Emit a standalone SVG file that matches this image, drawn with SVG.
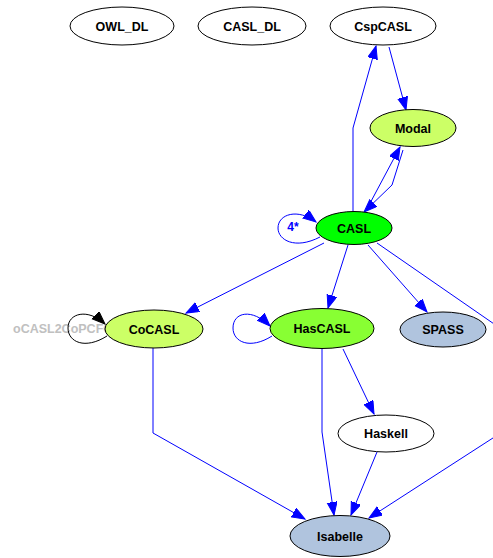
<svg xmlns="http://www.w3.org/2000/svg" width="493" height="558" viewBox="0 0 493 558">
<style>
.n{stroke:#000;stroke-width:1}
.t{font-family:"Liberation Sans",Arial,sans-serif;font-weight:bold;font-size:12.5px;text-anchor:middle;fill:#000}
.e{fill:none;stroke:#0000ff;stroke-width:1}
.k{fill:none;stroke:#000;stroke-width:1}
</style>
<defs>
<marker id="ab" markerUnits="userSpaceOnUse" markerWidth="15" markerHeight="12" refX="13" refY="5" orient="auto"><path d="M0,0 L13,5 L0,10 z" fill="#0000ff" stroke="#0000ff"/></marker>
<marker id="ak" markerUnits="userSpaceOnUse" markerWidth="15" markerHeight="12" refX="13" refY="5" orient="auto"><path d="M0,0 L13,5 L0,10 z" fill="#000" stroke="#000"/></marker>
</defs>
<rect width="493" height="558" fill="#fff"/>
<text x="13" y="333" style="font-family:'Liberation Sans',Arial,sans-serif;font-weight:bold;font-size:12.5px;fill:#c0c0c0">oCASL2CoPCFOL</text>
<g id="edges">
<path class="e" d="M353,211 L353,128 L376,46" marker-end="url(#ab)"/>
<path class="e" d="M389,47 L406,110" marker-end="url(#ab)"/>
<path class="e" d="M368,207 L400,147" marker-end="url(#ab)"/>
<path class="e" d="M403,150 L392,185 L364,212" marker-end="url(#ab)"/>
<path class="e" d="M320,237 C295,250 278,240 278,228 C278,214 298,208 316,222" marker-end="url(#ab)"/>
<path class="e" d="M324,243 L186,313" marker-end="url(#ab)"/>
<path class="e" d="M348,245 L328,308" marker-end="url(#ab)"/>
<path class="e" d="M368,245 L427,312" marker-end="url(#ab)"/>
<path class="e" d="M377,243 L510,335 L510,427 L369,518" marker-end="url(#ab)"/>
<path class="e" d="M272,336 C250,350 233,342 233,328 C233,312 252,308 270,326" marker-end="url(#ab)"/>
<path class="e" d="M343,349 L374,414" marker-end="url(#ab)"/>
<path class="e" d="M322,349 L322,432 L334,515" marker-end="url(#ab)"/>
<path class="e" d="M377,452 L351,515" marker-end="url(#ab)"/>
<path class="e" d="M153,348 L153,433 L305,519" marker-end="url(#ab)"/>
<path class="k" d="M107,336 C85,350 68,342 68,328 C68,313 88,308 105,324" marker-end="url(#ak)"/>
</g>
<text x="293" y="231" style="font-family:'Liberation Sans',Arial,sans-serif;font-weight:bold;font-size:12px;fill:#0000ff;text-anchor:middle">4*</text>
<g id="OWL_DL"><ellipse class="n" cx="122" cy="26" rx="52" ry="19" fill="#fff"/><text class="t" x="122" y="30.5">OWL_DL</text></g>
<g id="CASL_DL"><ellipse class="n" cx="252" cy="26" rx="54" ry="19" fill="#fff"/><text class="t" x="252" y="30.5">CASL_DL</text></g>
<g id="CspCASL"><ellipse class="n" cx="383" cy="26" rx="53" ry="19" fill="#fff"/><text class="t" x="383" y="30.5">CspCASL</text></g>
<g id="Modal"><ellipse class="n" cx="413" cy="128" rx="43" ry="18.5" fill="#ccff66"/><text class="t" x="413" y="132.5">Modal</text></g>
<g id="CASL"><ellipse class="n" cx="354" cy="228" rx="38" ry="16.5" fill="#00ff00"/><text class="t" x="354" y="232.5">CASL</text></g>
<g id="CoCASL"><ellipse class="n" cx="154" cy="329" rx="49" ry="19" fill="#ccff66"/><text class="t" x="154" y="333.5">CoCASL</text></g>
<g id="HasCASL"><ellipse class="n" cx="322" cy="328.5" rx="52" ry="20" fill="#88ff33"/><text class="t" x="322" y="333">HasCASL</text></g>
<g id="SPASS"><ellipse class="n" cx="443" cy="329.5" rx="43" ry="17.5" fill="#b0c4de"/><text class="t" x="443" y="334">SPASS</text></g>
<g id="Haskell"><ellipse class="n" cx="386" cy="433.5" rx="48" ry="18.5" fill="#fff"/><text class="t" x="386" y="438">Haskell</text></g>
<g id="Isabelle"><ellipse class="n" cx="340" cy="536" rx="50" ry="20.5" fill="#b0c4de"/><text class="t" x="340" y="540.5">Isabelle</text></g>
</svg>
